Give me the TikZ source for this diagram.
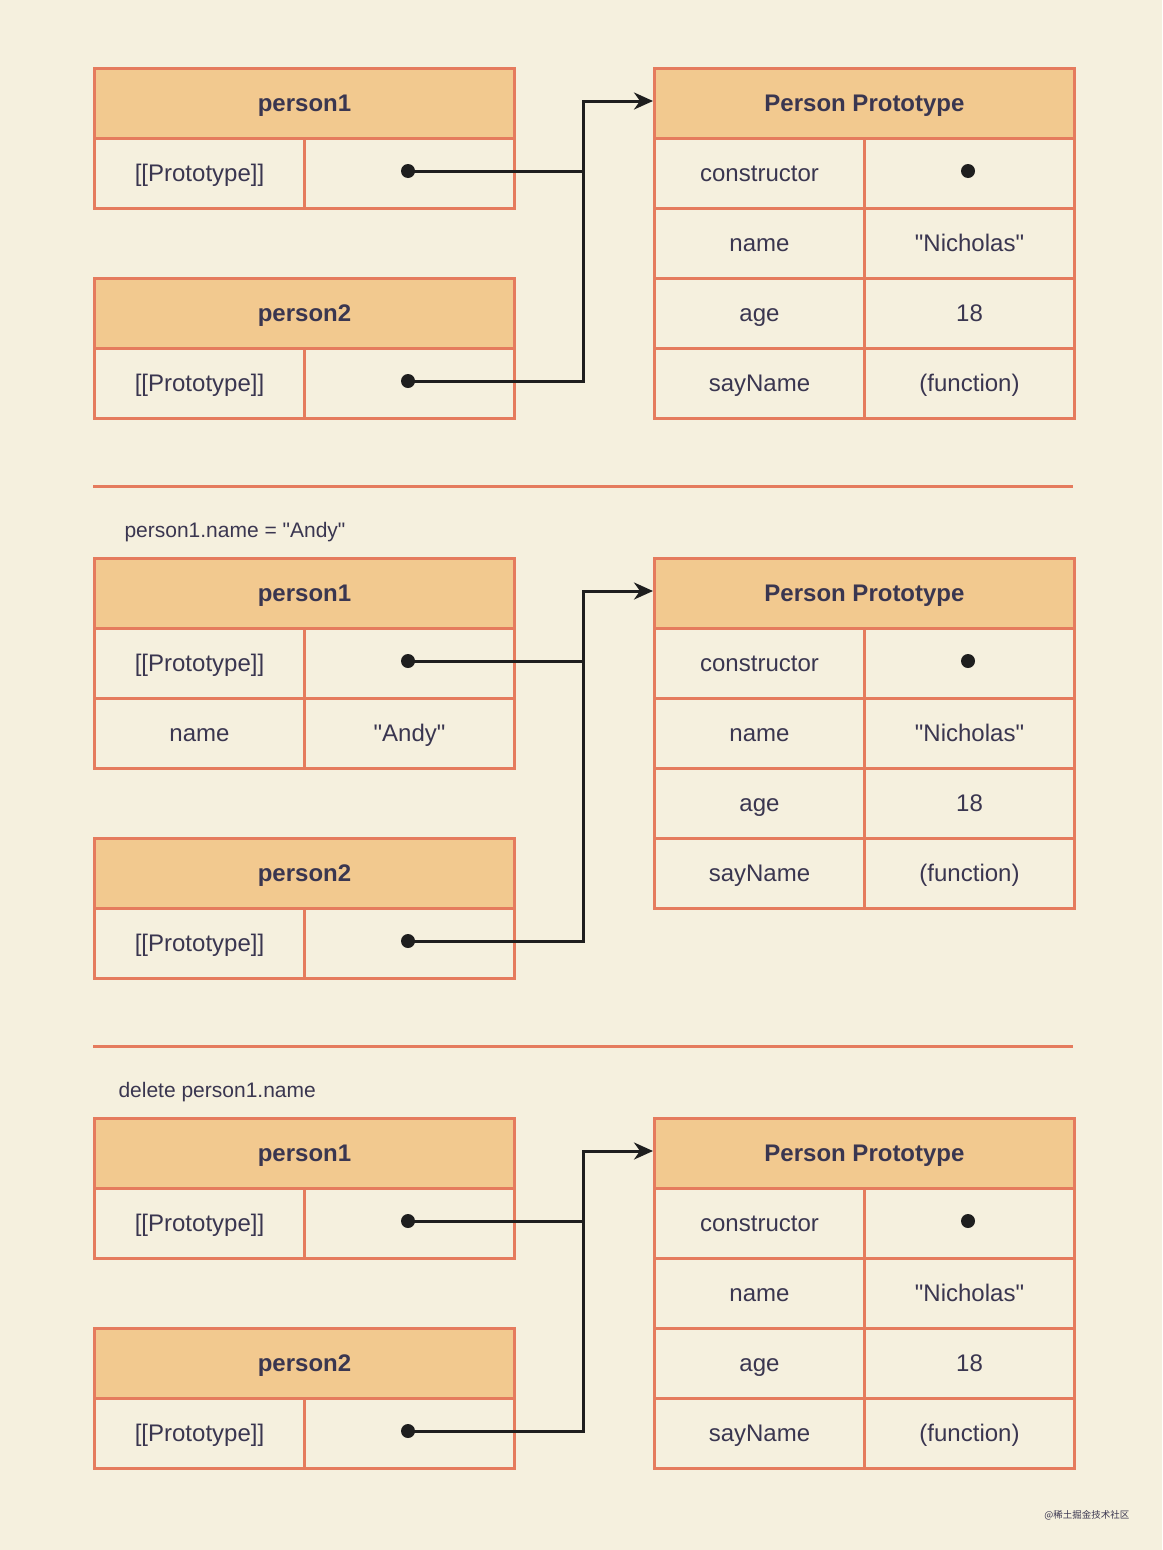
\documentclass[tikz,border=0pt]{standalone}
\usepackage{fontspec}
\setmainfont{Liberation Sans}
\newfontfamily\cjk{Noto Sans CJK SC}
\usetikzlibrary{arrows.meta}
\definecolor{bg}{HTML}{F5F0DE}
\definecolor{hdr}{HTML}{F2C98F}
\definecolor{bord}{HTML}{E57B5D}
\definecolor{txt}{HTML}{3A3650}
\definecolor{ink}{HTML}{1E1E1E}
\newcommand\dq{\XeTeXglyph\XeTeXcharglyph"22\relax}
\tikzset{
  cell/.style={draw=bord, line width=3pt, anchor=north west, inner sep=0pt,
    minimum width=210pt, minimum height=70pt, text=txt,
    text height=19pt, text depth=3pt,
    font=\fontsize{24}{28}\selectfont},
  hcell/.style={cell, fill=hdr, minimum width=420pt, font=\fontsize{24}{28}\selectfont\bfseries},
  dot/.style={circle, fill=ink, inner sep=0pt, minimum size=14pt},
  conn/.style={draw=ink, line width=3pt},
  arr/.style={conn, -{Stealth[length=19pt,width=17pt,inset=6pt]}},
  caption/.style={anchor=west, text=txt, font=\fontsize{21}{25}\selectfont},
  sep/.style={draw=bord, line width=3pt}
}
\begin{document}
\begin{tikzpicture}[x=1pt,y=-1pt]
\fill[bg] (0,0) rectangle (1162,1550);
\useasboundingbox (0,0) rectangle (1162,1550);

% ===== Section 1 =====
\node[hcell] (a1h) at (93,67) {person1};
\node[cell] (a1k) at (93,137) {[[Prototype]]};
\node[cell] (a1v) at (303,137) {};
\node[hcell] (a2h) at (93,277) {person2};
\node[cell] (a2k) at (93,347) {[[Prototype]]};
\node[cell] (a2v) at (303,347) {};
\node[hcell] (aph) at (653,67) {Person Prototype};
\node[cell] (apk1) at (653,137) {constructor};
\node[cell] (apv1) at (863,137) {};
\node[cell] (apk2) at (653,207) {name};
\node[cell] (apv2) at (863,207) {\dq Nicholas\dq};
\node[cell] (apk3) at (653,277) {age};
\node[cell] (apv3) at (863,277) {18};
\node[cell] (apk4) at (653,347) {sayName};
\node[cell] (apv4) at (863,347) {(function)};
\node[dot] (ad1) at (408,171) {};
\node[dot] (ad2) at (408,381) {};
\node[dot] (adc) at (968,171) {};
\coordinate (ak) at (583,101);
\draw[arr] (ad1.center) -| (ak) -- (aph.west |- ak);
\draw[conn] (ad2.center) -| (ak);

\coordinate (s1l) at (93,486);
\coordinate (s1r) at (1073,486);
\draw[sep] (s1l) -- (s1r);

% ===== Section 2 =====
\node[caption] (cap2) at (121,532) {person1.name = \dq Andy\dq};
\node[hcell] (b1h) at (93,557) {person1};
\node[cell] (b1k) at (93,627) {[[Prototype]]};
\node[cell] (b1v) at (303,627) {};
\node[cell] (b1k2) at (93,697) {name};
\node[cell] (b1v2) at (303,697) {\dq Andy\dq};
\node[hcell] (b2h) at (93,837) {person2};
\node[cell] (b2k) at (93,907) {[[Prototype]]};
\node[cell] (b2v) at (303,907) {};
\node[hcell] (bph) at (653,557) {Person Prototype};
\node[cell] (bpk1) at (653,627) {constructor};
\node[cell] (bpv1) at (863,627) {};
\node[cell] (bpk2) at (653,697) {name};
\node[cell] (bpv2) at (863,697) {\dq Nicholas\dq};
\node[cell] (bpk3) at (653,767) {age};
\node[cell] (bpv3) at (863,767) {18};
\node[cell] (bpk4) at (653,837) {sayName};
\node[cell] (bpv4) at (863,837) {(function)};
\node[dot] (bd1) at (408,661) {};
\node[dot] (bd2) at (408,941) {};
\node[dot] (bdc) at (968,661) {};
\coordinate (bk) at (583,591);
\draw[arr] (bd1.center) -| (bk) -- (bph.west |- bk);
\draw[conn] (bd2.center) -| (bk);

\coordinate (s2l) at (93,1046);
\coordinate (s2r) at (1073,1046);
\draw[sep] (s2l) -- (s2r);

% ===== Section 3 =====
\node[caption] (cap3) at (115,1092) {delete person1.name};
\node[hcell] (c1h) at (93,1117) {person1};
\node[cell] (c1k) at (93,1187) {[[Prototype]]};
\node[cell] (c1v) at (303,1187) {};
\node[hcell] (c2h) at (93,1327) {person2};
\node[cell] (c2k) at (93,1397) {[[Prototype]]};
\node[cell] (c2v) at (303,1397) {};
\node[hcell] (cph) at (653,1117) {Person Prototype};
\node[cell] (cpk1) at (653,1187) {constructor};
\node[cell] (cpv1) at (863,1187) {};
\node[cell] (cpk2) at (653,1257) {name};
\node[cell] (cpv2) at (863,1257) {\dq Nicholas\dq};
\node[cell] (cpk3) at (653,1327) {age};
\node[cell] (cpv3) at (863,1327) {18};
\node[cell] (cpk4) at (653,1397) {sayName};
\node[cell] (cpv4) at (863,1397) {(function)};
\node[dot] (cd1) at (408,1221) {};
\node[dot] (cd2) at (408,1431) {};
\node[dot] (cdc) at (968,1221) {};
\coordinate (ck) at (583,1151);
\draw[arr] (cd1.center) -| (ck) -- (cph.west |- ck);
\draw[conn] (cd2.center) -| (ck);

\node[anchor=east, text=txt, font=\cjk\fontsize{9.5}{12}\selectfont] (wm) at (1133,1515) {@稀土掘金技术社区};
\end{tikzpicture}
\end{document}
